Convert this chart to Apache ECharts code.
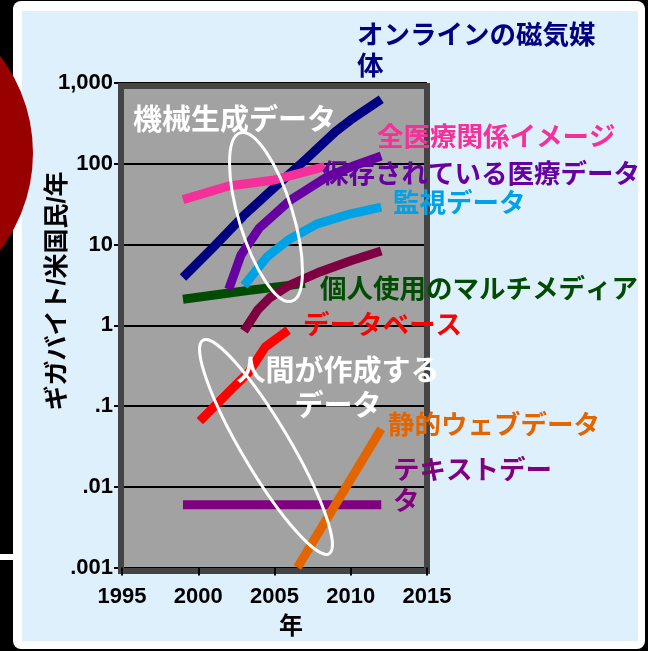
<!DOCTYPE html>
<html>
<head>
<meta charset="utf-8">
<script src="https://cdn.jsdelivr.net/npm/echarts@6/dist/echarts.min.js"></script>
<style>
  html, body { margin: 0; padding: 0; background: #000; }
  #chart { width: 648px; height: 651px; }
</style>
</head>
<body>
<div id="chart"></div>
<script>
// Tick labels for the logarithmic value axis (10^-3 … 10^3)
const yTickLabels = ['.001', '.01', '.1', '1', '10', '100', '1,000'];

// Gigabytes per US citizen per year, as [year, value]
const onlineStorage   = [[1999, 3.9], [2001, 9.3], [2003, 23], [2005, 51], [2007, 111], [2009, 250], [2010, 350], [2011, 470], [2012, 630]];
const medicalImages   = [[1999, 36], [2002, 53], [2005, 63], [2008.3, 92]];
const storedMedical   = [[2002, 2.8], [2002.8, 7.4], [2004, 16], [2006, 35], [2008.4, 68], [2010.3, 96], [2012, 125]];
const surveillance    = [[2003, 3.1], [2004.5, 7], [2005.9, 11.4], [2007.8, 18], [2010, 24], [2012, 29]];
const personalMedia   = [[1999, 2.1], [2003, 2.65], [2007, 3.3]];
const unlabeledMaroon = [[2003, 0.85], [2003.9, 1.55], [2004.7, 2.2], [2006, 3.15], [2008, 4.6], [2010, 6.3], [2012, 8.3]];
const databases       = [[2000.1, 0.065], [2002.3, 0.17], [2003.3, 0.26], [2004.4, 0.54], [2005.9, 0.87]];
const textData        = [[1999, 0.006], [2012, 0.006]];
const staticWeb       = [[2006.5, 0.001], [2012, 0.052]];

const CJK = "'Liberation Sans', 'Noto Sans CJK JP', sans-serif";

const seriesDefs = [
  { name: '個人使用のマルチメディア', color: '#004c00', data: personalMedia },
  { name: 'オンラインの磁気媒体', color: '#000080', data: onlineStorage },
  { name: '全医療関係イメージ', color: '#f5309a', data: medicalImages },
  { name: '保存されている医療データ', color: '#6600a0', data: storedMedical },
  { name: '監視データ', color: '#00a2e6', data: surveillance },
  { name: 'その他', color: '#7f0040', data: unlabeledMaroon },
  { name: 'データベース', color: '#ff0000', data: databases },
  { name: 'テキストデータ', color: '#800080', data: textData },
  { name: '静的ウェブデータ', color: '#e36500', data: staticWeb }
];

function label(text, x, y, color, size, extra, rotation) {
  return {
    type: 'text', z: 100, silent: true,
    x: x, y: y, rotation: rotation || 0,
    style: Object.assign({
      text: text, x: 0, y: 0, fill: color,
      font: 'bold ' + size + 'px ' + CJK,
      textAlign: 'left', align: 'left',
      textVerticalAlign: 'middle', verticalAlign: 'middle'
    }, extra || {})
  };
}

const chart = echarts.init(document.getElementById('chart'), null, { renderer: 'canvas' });

chart.setOption({
  animation: false,
  backgroundColor: 'transparent',
  grid: {
    show: true, left: 122, right: 221, top: 83, bottom: 83.5,
    backgroundColor: '#a2a2a2', borderWidth: 0
  },
  xAxis: {
    type: 'value', min: 1995, max: 2015, interval: 5, z: 2,
    axisLine: { show: false },
    axisTick: { show: true, length: 8, lineStyle: { color: '#000', width: 2 } },
    splitLine: { show: false },
    axisLabel: {
      color: '#000', fontSize: 22, fontWeight: 'bold', fontFamily: CJK, margin: 18,
      formatter: v => String(v)
    }
  },
  yAxis: {
    type: 'log', logBase: 10, min: 0.001, max: 1000,
    axisLine: { show: false },
    axisTick: { show: true, length: 8, lineStyle: { color: '#000', width: 2 } },
    minorTick: { show: false },
    splitLine: { show: true, lineStyle: { color: '#000', width: 2 } },
    axisLabel: {
      color: '#000', fontSize: 22, fontWeight: 'bold', fontFamily: CJK, margin: 9,
      padding: [0, 0, 16, 0],
      formatter: v => yTickLabels[Math.round(Math.log10(v)) + 3]
    }
  },
  series: seriesDefs.map(s => ({
    type: 'line', name: s.name, data: s.data,
    symbol: 'none', silent: true, z: 3,
    lineStyle: { color: s.color, width: 9, cap: 'butt', join: 'round' }
  })),
  graphic: [
    // outer white card and pale blue panel
    { type: 'rect', z: -10, silent: true, shape: { x: 13, y: 1, width: 632, height: 648, r: 8 }, style: { fill: '#ffffff' } },
    { type: 'rect', z: -9, silent: true, shape: { x: 22, y: 11, width: 616, height: 630 }, style: { fill: '#dff0fd' } },
    { type: 'rect', z: -9, silent: true, shape: { x: 0, y: 554, width: 14, height: 6 }, style: { fill: '#ffffff' } },
    { type: 'circle', z: -8, silent: true, shape: { cx: -127, cy: 153, r: 160 }, style: { fill: '#990000' } },
    // plot frame
    { type: 'rect', z: 1, silent: true, shape: { x: 121, y: 86, width: 306, height: 485 }, style: { fill: null, stroke: '#444444', lineWidth: 6 } },
    // grouping ellipses
    { type: 'ellipse', z: 90, silent: true, x: 266, y: 217, rotation: 0.297, shape: { cx: 0, cy: 0, rx: 27, ry: 88 }, style: { fill: null, stroke: '#ffffff', lineWidth: 3 } },
    { type: 'ellipse', z: 90, silent: true, x: 266, y: 447, rotation: 0.534, shape: { cx: 0, cy: 0, rx: 24, ry: 124 }, style: { fill: null, stroke: '#ffffff', lineWidth: 3 } },
    // axis titles
    label('ギガバイト/米国民/年', 58, 291, '#000', 25, { textAlign: 'center', align: 'center' }, Math.PI / 2),
    label('年', 291, 627, '#000', 24, { textAlign: 'center', align: 'center' }),
    // series labels
    label('オンラインの磁気媒\n体', 357, 21.5, '#000080', 26.5, { textVerticalAlign: 'top', verticalAlign: 'top', lineHeight: 31 }),
    label('全医療関係イメージ', 377, 139, '#f5309a', 26.5),
    label('保存されている医療データ', 322, 176, '#6600a0', 26.5),
    label('監視データ', 393, 205, '#00a2e6', 26.5),
    label('個人使用のマルチメディア', 320, 291, '#004c00', 26.5),
    label('データベース', 303, 327, '#ff0000', 26.5),
    label('静的ウェブデータ', 388, 427, '#e36500', 26.5),
    label('テキストデー\nタ', 393, 456.5, '#800080', 26.5, { textVerticalAlign: 'top', verticalAlign: 'top', lineHeight: 31 }),
    label('機械生成データ', 133, 122, '#ffffff', 29),
    label('人間が作成する\nデータ', 338, 355.5, '#ffffff', 29, { textAlign: 'center', align: 'center', textVerticalAlign: 'top', verticalAlign: 'top', lineHeight: 35 })
  ]
});
</script>
</body>
</html>
